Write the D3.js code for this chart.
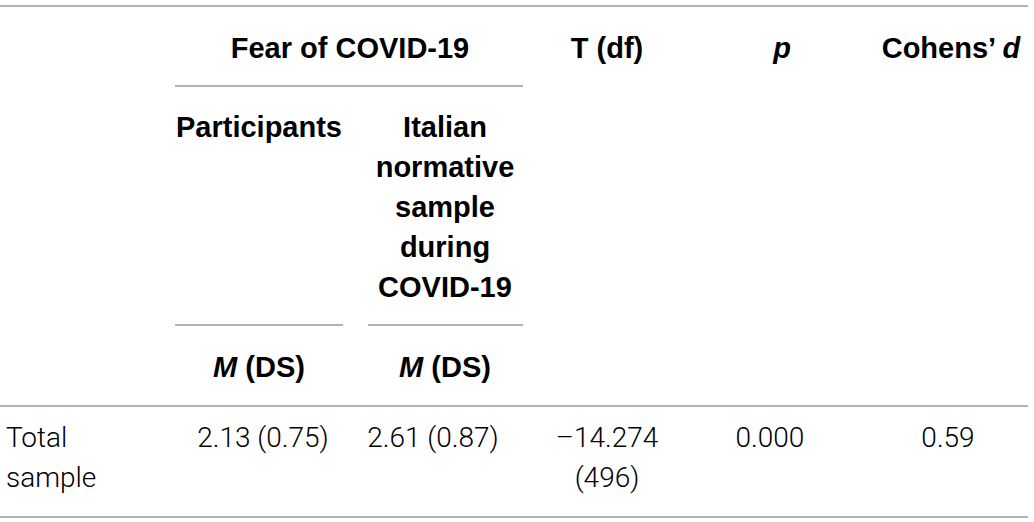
<!DOCTYPE html>
<html>
<head>
<meta charset="utf-8">
<script src="https://cdn.jsdelivr.net/npm/d3@7"></script>
<style>
  html, body { margin: 0; padding: 0; background: #fff; }
  svg { display: block; }
  .head { font-family: "Liberation Sans", Arial, sans-serif; font-weight: bold; font-size: 29px; fill: #000; }
  .cell { font-family: Roboto, "Liberation Sans", sans-serif; font-weight: 300; font-size: 28px; fill: #000; }
</style>
</head>
<body>
<svg id="table"></svg>
<script>
// table content
const columns = ['label', 'participants', 'normative', 'tdf', 'p', 'cohen'];
const groupHeader = 'Fear of COVID-19';
const participantsHeader = ['Participants'];
const normativeHeader = ['Italian', 'normative', 'sample', 'during', 'COVID-19'];
const rowLabel = ['Total', 'sample'];
const means = [2.13, 2.61];
const sds = [0.75, 0.87];
const tValue = -14.274;
const dfValue = 496;
const pValue = 0.000;
const cohensD = 0.59;

const width = 1034, height = 522;

const svg = d3.select('#table')
    .attr('width', width)
    .attr('height', height);

// column centres / row baselines
const xcol = d3.scaleOrdinal()
    .domain(columns)
    .range([6, 259, 445, 607, 776, 951]);

const lineStep = 40;
const yrow = d3.scaleOrdinal()
    .domain(['top', 'sub', 'ms', 'body'])
    .range([58, 137, 377, 447]);

const locale = d3.formatLocale({decimal: '.', thousands: ',', grouping: [3], currency: ['', ''], minus: '\u2013'});
const f2 = locale.format('.2f');
const f3 = locale.format('.3f');

// rules
const rules = [
    {x0: 0, x1: 1028, y: 6},
    {x0: 175, x1: 523, y: 86},
    {x0: 175, x1: 343, y: 325},
    {x0: 368, x1: 523, y: 325},
    {x0: 0, x1: 1028, y: 406},
    {x0: 0, x1: 1028, y: 517}
];
svg.selectAll('line.rule')
    .data(rules)
    .join('line')
    .attr('class', 'rule')
    .attr('x1', d => d.x0)
    .attr('x2', d => d.x1)
    .attr('y1', d => d.y)
    .attr('y2', d => d.y)
    .attr('stroke', '#9a9a9a')
    .attr('stroke-width', 1.6);

// top header row
svg.append('text')
    .attr('class', 'head')
    .attr('x', (xcol('participants') + xcol('normative')) / 2 - 2)
    .attr('y', yrow('top'))
    .attr('text-anchor', 'middle')
    .text(groupHeader);

svg.append('text')
    .attr('class', 'head')
    .attr('x', xcol('tdf'))
    .attr('y', yrow('top'))
    .attr('text-anchor', 'middle')
    .text('T (df)');

svg.append('text')
    .attr('class', 'head')
    .attr('x', xcol('p') + 6)
    .attr('y', yrow('top'))
    .attr('text-anchor', 'middle')
    .attr('font-style', 'italic')
    .text('p');

const coh = svg.append('text')
    .attr('class', 'head')
    .attr('x', xcol('cohen'))
    .attr('y', yrow('top'))
    .attr('text-anchor', 'middle');
coh.append('tspan').text('Cohens\u2019 ');
coh.append('tspan').attr('font-style', 'italic').text('d');

// sub headers
[['participants', participantsHeader], ['normative', normativeHeader]].forEach(([key, lines]) => {
    svg.append('g')
        .selectAll('text')
        .data(lines)
        .join('text')
        .attr('class', 'head')
        .attr('x', xcol(key))
        .attr('y', (d, i) => yrow('sub') + i * lineStep)
        .attr('text-anchor', 'middle')
        .text(d => d);
});

['participants', 'normative'].forEach(key => {
    const t = svg.append('text')
        .attr('class', 'head')
        .attr('x', xcol(key))
        .attr('y', yrow('ms'))
        .attr('text-anchor', 'middle');
    t.append('tspan').attr('font-style', 'italic').text('M');
    t.append('tspan').text(' (DS)');
});

// body row
svg.selectAll('text.label')
    .data(rowLabel)
    .join('text')
    .attr('class', 'cell label')
    .attr('x', xcol('label'))
    .attr('y', (d, i) => yrow('body') + i * lineStep)
    .text(d => d);

svg.selectAll('text.msd')
    .data(['participants', 'normative'])
    .join('text')
    .attr('class', 'cell msd')
    .attr('x', (d, i) => xcol(d) + (i === 0 ? 4 : -12))
    .attr('y', yrow('body'))
    .attr('text-anchor', 'middle')
    .text((d, i) => `${f2(means[i])} (${f2(sds[i])})`);

svg.selectAll('text.tdf')
    .data([f3(tValue), `(${dfValue})`])
    .join('text')
    .attr('class', 'cell tdf')
    .attr('x', xcol('tdf'))
    .attr('y', (d, i) => yrow('body') + i * lineStep)
    .attr('text-anchor', 'middle')
    .text(d => d);

svg.append('text')
    .attr('class', 'cell')
    .attr('x', xcol('p') - 6)
    .attr('y', yrow('body'))
    .attr('text-anchor', 'middle')
    .text(f3(pValue));

svg.append('text')
    .attr('class', 'cell')
    .attr('x', xcol('cohen') - 3)
    .attr('y', yrow('body'))
    .attr('text-anchor', 'middle')
    .text(f2(cohensD));
</script>
</body>
</html>
